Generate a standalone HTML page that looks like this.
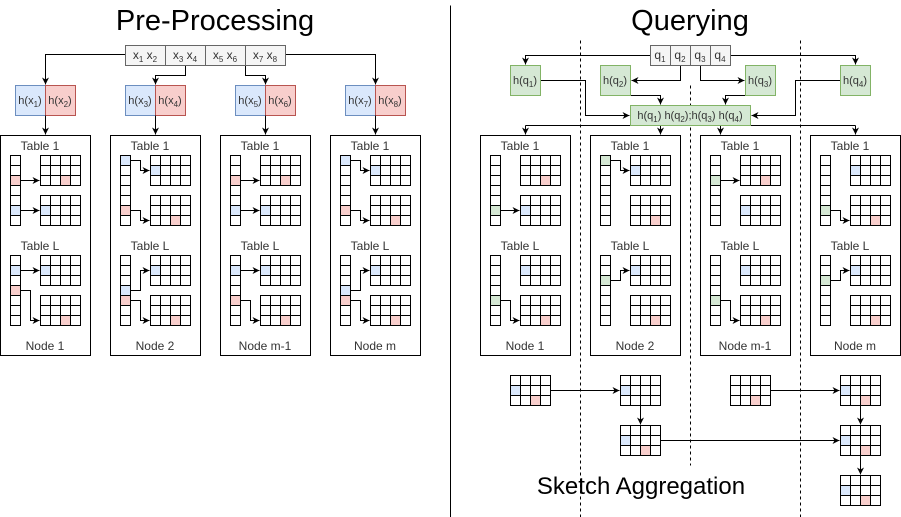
<!DOCTYPE html>
<html><head><meta charset="utf-8"><style>body{margin:0;background:#fff}svg{display:block}text{font-family:"Liberation Sans",Arial,sans-serif;fill:#333}</style></head>
<body>
<svg id="s" width="901" height="517" viewBox="0 0 901 517" xmlns="http://www.w3.org/2000/svg">
<defs><marker id="a" markerWidth="8" markerHeight="8" refX="7" refY="4" orient="auto" markerUnits="userSpaceOnUse"><path d="M0,0.5 L7,4 L0,7.5 L2,4 Z" fill="#000"/></marker></defs>
<g id="g" fill="none" stroke="#000" stroke-width="1"></g>
<text x="215" y="30" font-size="29" text-anchor="middle" style="fill:#000">Pre-Processing</text>
<text x="690" y="30" font-size="29" text-anchor="middle" style="fill:#000">Querying</text>
<text x="641" y="494" font-size="24" text-anchor="middle" style="fill:#000">Sketch Aggregation</text>
</svg>
<script>
const g=document.getElementById('g'),S=document.getElementById('s');
const BL='#dae8fc',RD='#f8cecc',GR='#d5e8d4';
function el(t,a,p){const e=document.createElementNS('http://www.w3.org/2000/svg',t);for(const k in a)e.setAttribute(k,a[k]);(p||g).appendChild(e);return e}
function rect(x,y,w,h,f,s){return el('rect',{x:x+.5,y:y+.5,width:w,height:h,fill:f||'#fff',stroke:s||'#000'})}
function pl(pts,arrow,dash){const a={points:pts.map(p=>(p[0]+.5)+','+(p[1]+.5)).join(' ')};if(arrow)a['marker-end']='url(#a)';if(dash)a['stroke-dasharray']='3,3';return el('polyline',a)}
function txt(x,y,s,size,anchor){const t=el('text',{x:x,y:y,'font-size':size||11,'text-anchor':anchor||'middle',stroke:'none'},S);t.innerHTML=s;return t}
function grid(x,y,cells){for(let r=0;r<3;r++)for(let c=0;c<4;c++){let f='#fff';(cells||[]).forEach(k=>{if(k[0]==c&&k[1]==r)f=k[2]});rect(x+c*10,y+r*10,10,10,f)}}
pl([[450,5],[450,517]]);
[580,800].forEach(x=>pl([[x,40],[x,517]],0,1));pl([[690,85],[690,465]],0,1);
function node(x,label,tables){
 rect(x,135,90,220);
 txt(x+40,150,'Table 1',12);txt(x+40,250,'Table L',12);txt(x+45,350,label,12);
 tables.forEach((tb,ti)=>{
  const top=155+ti*100;
  const col={};tb.m.forEach(m=>col[m[0]]=m[1]);
  for(let r=0;r<7;r++)rect(x+10,top+r*10,10,10,col[r]||'#fff');
  grid(x+40,top,tb.c0);grid(x+40,top+40,tb.c1);
  tb.m.forEach(m=>{const sy=top+m[0]*10+5,ty=top+m[2]*40+m[3]*10+5;
   if(sy==ty)pl([[x+20,sy],[x+39,ty]],1);else pl([[x+20,sy],[x+30,sy],[x+30,ty],[x+39,ty]],1);});
 });
}
const rc=[2,2,RD],bc=[0,1,BL];
const A={m:[[2,RD,0,2],[5,BL,1,1]],c0:[rc],c1:[bc]}, B={m:[[0,BL,0,1],[5,RD,1,2]],c0:[bc],c1:[rc]};
const AL={m:[[1,BL,0,1],[3,RD,1,2]],c0:[bc],c1:[rc]}, BLt={m:[[3,BL,0,1],[4,RD,1,2]],c0:[bc],c1:[rc]};
node(0,'Node 1',[A,AL]);node(110,'Node 2',[B,BLt]);node(220,'Node m-1',[A,{m:[[1,BL,0,1],[4,RD,1,2]],c0:[bc],c1:[rc]}]);node(330,'Node m',[B,BLt]);
node(480,'Node 1',[{m:[[5,GR,1,1]],c0:[rc],c1:[bc]},{m:[[4,GR,1,2]],c0:[bc],c1:[rc]}]);
node(590,'Node 2',[{m:[[0,GR,0,1]],c0:[bc],c1:[rc]},{m:[[2,GR,0,1]],c0:[bc],c1:[rc]}]);
node(700,'Node m-1',[{m:[[2,GR,0,2]],c0:[rc],c1:[bc]},{m:[[4,GR,1,2]],c0:[bc],c1:[rc]}]);
node(810,'Node m',[{m:[[5,GR,1,2]],c0:[bc],c1:[rc]},{m:[[2,GR,0,1]],c0:[bc],c1:[rc]}]);
const xs=['x<tspan font-size="8" dy="3">1</tspan><tspan dy="-3"> x</tspan><tspan font-size="8" dy="3">2</tspan>','x<tspan font-size="8" dy="3">3</tspan><tspan dy="-3"> x</tspan><tspan font-size="8" dy="3">4</tspan>','x<tspan font-size="8" dy="3">5</tspan><tspan dy="-3"> x</tspan><tspan font-size="8" dy="3">6</tspan>','x<tspan font-size="8" dy="3">7</tspan><tspan dy="-3"> x</tspan><tspan font-size="8" dy="3">8</tspan>'];
pl([[125,54],[45,54],[45,84]],1);pl([[185,65],[185,75],[155,75],[155,84]],1);pl([[245,65],[245,75],[265,75],[265,84]],1);pl([[285,54],[375,54],[375,84]],1);
xs.forEach((s,i)=>{rect(125+i*40,45,40,20,'#f5f5f5','#666');txt(145+i*40,59,s,12)});
[[15,1],[125,3],[235,5],[345,7]].forEach(([x,n])=>{rect(x,85,30,30,BL,'#6c8ebf');rect(x+30,85,30,30,RD,'#b85450');
 txt(x+15,104,'h(x<tspan font-size="8" dy="3">'+n+'</tspan><tspan dy="-3">)</tspan>',11);txt(x+45,104,'h(x<tspan font-size="8" dy="3">'+(n+1)+'</tspan><tspan dy="-3">)</tspan>',11);
 pl([[x+30,115],[x+30,134]],1);});
pl([[650,55],[525,55],[525,64]],1);pl([[680,65],[680,80],[631,80]],1);pl([[700,65],[700,80],[744,80]],1);pl([[730,55],[855,55],[855,64]],1);
pl([[540,80],[585,80],[585,115],[629,115]],1);pl([[630,95],[660,95],[660,104]],1);pl([[745,95],[725,95],[725,104]],1);pl([[840,80],[795,80],[795,115],[751,115]],1);
pl([[525,125],[855,125]]);[525,660,720,855].forEach(x=>pl([[x,125],[x,134]],1));
for(let i=0;i<4;i++){rect(650+i*20,45,20,20,'#f5f5f5','#666');txt(660+i*20,59,'q<tspan font-size="8" dy="3">'+(i+1)+'</tspan>',12)}
[[510,1],[600,2],[745,3],[840,4]].forEach(([x,n])=>{rect(x,65,30,30,GR,'#82b366');txt(x+15,84,'h(q<tspan font-size="8" dy="3">'+n+'</tspan><tspan dy="-3">)</tspan>',11)});
rect(630,105,120,20,GR,'#82b366');
txt(690,119,'h(q<tspan font-size="8" dy="3">1</tspan><tspan dy="-3">) h(q</tspan><tspan font-size="8" dy="3">2</tspan><tspan dy="-3">);h(q</tspan><tspan font-size="8" dy="3">3</tspan><tspan dy="-3">) h(q</tspan><tspan font-size="8" dy="3">4</tspan><tspan dy="-3">)</tspan>',11);
grid(510,375,[bc,rc]);grid(620,375,[bc]);grid(620,425,[bc,rc]);grid(730,375,[rc]);grid(840,375,[bc,rc]);grid(840,425,[bc,rc]);grid(840,475,[bc,rc]);
pl([[550,390],[619,390]],1);pl([[640,405],[640,424]],1);pl([[660,440],[839,440]],1);pl([[770,390],[839,390]],1);pl([[860,405],[860,424]],1);pl([[860,455],[860,474]],1);
</script>
</body></html>
